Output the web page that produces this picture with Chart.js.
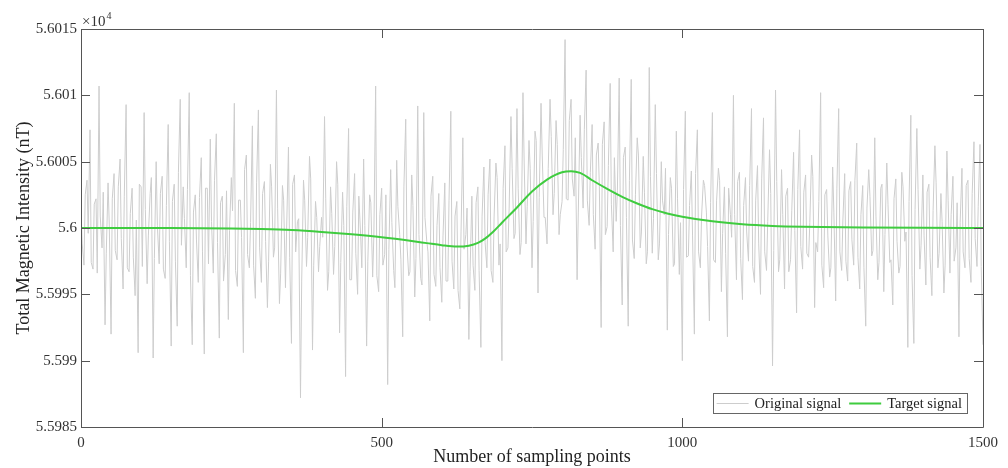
<!DOCTYPE html>
<html><head><meta charset="utf-8">
<script src="https://cdn.jsdelivr.net/npm/chart.js@4/dist/chart.umd.min.js"></script>
<style>html,body{margin:0;padding:0;background:#fff}#wrap{width:1008px;height:468px}</style>
</head><body><div id="wrap"><canvas id="c" width="1008" height="468"></canvas></div>
<script>
// ---- data (nT) ----
const SERIES_NAMES = ['Original signal', 'Target signal'];
const X_TITLE = 'Number of sampling points';
const Y_TITLE = 'Total Magnetic Intensity (nT)';
const X_TICKS = [0, 500, 1000, 1500];
const X_TICK_LABELS = ['0', '500', '1000', '1500'];
const Y_TICKS = [55985, 55990, 55995, 56000, 56005, 56010, 56015];
const Y_TICK_LABELS = ['5.5985', '5.599', '5.5995', '5.6', '5.6005', '5.601', '5.6015'];
const SAMPLE_STEP = 5;   // originalValues: sampling points 0, 5, 10, ... 1500
const MID_OFFSET = 2;    // originalValuesMid: sampling points 2, 7, 12, ... 1497

const originalValues = [
56001.5,55997.2,56003.6,56007.4,55996.9,56002.2,56010.7,55998.5,55992.7,56003.4,
55992.0,56004.1,55997.6,56005.2,55995.4,56009.3,55996.7,56003.0,55994.9,55990.6,
56003.1,56008.7,55995.8,56002.6,55990.2,56005.0,55997.3,56003.9,55996.2,56007.8,
55991.1,56003.3,55992.6,56009.7,56003.1,55997.0,56010.2,55991.2,56002.5,55995.9,
56005.3,55990.5,56003.0,56006.7,55996.6,56007.1,55991.7,56002.4,55998.0,55993.1,
56003.8,56009.4,55995.6,56002.1,55990.6,56005.5,55997.0,56007.7,55994.7,56008.9,
55995.9,56003.5,55994.0,56004.8,55997.8,56010.4,55994.3,56003.2,55995.5,56006.1,
55991.3,56004.0,56000.5,55987.2,56003.6,55997.1,56005.4,55990.8,56002.0,55996.7,
56000.8,56008.4,55995.3,56003.1,55996.5,56005.0,55992.1,56002.7,55988.8,56007.5,
55996.1,56004.1,55995.0,55999.5,56005.2,55991.1,56002.5,55996.3,56010.7,55995.2,
56003.0,55998.0,55988.2,56004.4,55996.8,56005.1,55999.5,55991.8,56008.2,55996.4,
56004.0,55994.8,56009.2,55996.2,56008.7,55999.0,55993.0,56003.9,55995.6,56002.6,
55994.4,56003.4,55996.0,56008.8,55995.4,56002.0,55993.9,56006.8,55999.5,55991.6,
56002.4,55995.3,56003.1,55991.0,56004.6,55997.0,56005.2,55995.9,56004.9,55997.2,
55990.0,56006.2,55998.5,56008.4,55999.2,56009.0,55998.0,56010.2,55998.8,56006.6,
55997.0,56007.3,55995.1,56009.4,56000.8,55998.8,56009.7,56001.0,56008.1,55999.5,
56002.0,56014.2,56002.1,56009.7,56002.4,55996.1,56008.5,56001.5,56011.9,56000.2,
56007.8,55998.4,56006.4,55992.5,56008.0,56000.1,56010.9,55998.2,56000.5,56011.3,
55994.2,56006.1,55992.6,56011.2,55997.7,56006.8,55998.5,56005.4,55997.3,56012.1,
55998.1,56009.3,55997.6,56005.0,56001.0,55992.3,56003.8,55997.1,56007.3,55996.5,
55990.0,56008.8,55997.9,56004.3,55992.0,56007.4,55997.0,56003.6,56001.2,55993.0,
56008.7,55997.4,56004.5,55995.2,56003.1,55991.8,56001.0,56010.0,55996.1,56004.2,
55994.6,56003.8,55997.5,56009.0,55995.9,56004.7,55995.0,56008.3,55996.8,56005.9,
55989.6,56010.4,55996.7,56004.4,55995.4,56003.0,55997.6,56005.7,55993.6,56007.4,
55996.9,56004.0,55997.8,56005.5,55994.0,55998.2,56010.2,55995.5,56002.9,55996.3,
56004.6,55994.5,56009.0,55996.8,56004.1,55996.0,56003.5,55997.2,56006.4,55995.4,
56003.2,55992.6,56004.4,55997.9,56006.8,55996.1,56003.0,55995.2,56004.9,55997.4,
55994.2,56003.7,55996.6,56004.2,55999.0,55991.0,56008.5,55991.3,56007.5,55996.9,
56004.0,55995.7,56003.3,55994.9,56006.2,55997.0,56002.6,55995.1,56005.8,55996.6,
56003.9,55998.5,55991.8,56004.5,55997.0,56003.6,55995.9,56006.5,55997.1,56006.3,
55991.2
];

const originalValuesMid = [
55998.8,56002.5,55999.6,55997.4,56001.8,55996.6,56000.9,56002.7,55998.1,56000.3,
56002.2,55998.3,56003.1,55999.2,56002.4,55997.0,56001.1,55997.8,56000.6,56003.3,
55997.1,56001.4,55999.4,56003.8,55997.7,56000.2,56002.6,55996.9,56001.7,55999.0,
56002.0,55997.5,56004.2,55998.7,56000.7,56002.9,55996.4,56001.2,55999.1,56002.3,
55998.2,56003.0,55997.3,56000.5,56003.6,55998.9,56001.9,55996.0,56002.8,55999.8,
56001.3,55996.8,56002.1,55999.3,56004.4,55998.0,56000.4,55997.2,56003.4,55998.5,
56002.6,55999.0,55997.5,56003.1,55998.5,56001.5,55996.6,56002.1,56000.0,55997.8,
56003.3,55998.2,56000.7,55996.0,56002.1,55999.3,56003.7,55997.2,56000.8,55998.6,
55999.3,56002.2,55996.7,56001.1,55998.6,56003.3,55997.4,56000.2,56001.6,55996.1,
56001.2,55998.1,56002.4,55997.0,56000.2,55997.5,56001.9,55999.4,55996.4,56001.0,
55997.2,56002.5,55998.4,56000.4,55995.5,56001.6,55997.6,56003.1,55998.8,55996.7,
56001.7,55997.7,55999.5,55995.7,56000.8,55998.2,56002.4,55996.5,56000.2,55997.0,
55999.4,55996.0,56002.1,55997.5,56000.9,55995.3,55999.7,55998.4,56001.5,55996.7,
55997.2,56001.9,55996.8,56000.9,55998.9,56002.5,55996.8,56000.9,56003.8,55998.8,
56003.0,55998.2,56001.5,56004.5,55999.6,56003.0,55998.9,56004.9,56001.6,56004.5,
56000.5,56006.6,56002.3,56005.5,56000.8,56004.5,56006.9,56002.6,56006.3,56001.0,
56005.9,56002.2,56008.1,56003.7,56006.8,56001.2,56005.3,56007.4,56002.1,56004.2,
56001.0,56005.5,56003.1,56006.3,55999.5,56004.7,56001.8,56005.3,56002.8,56000.2,
56005.3,56000.8,56003.6,55999.1,56002.5,56005.5,55999.7,56002.7,55998.2,56003.9,
56000.7,56004.1,55998.8,56002.1,56004.5,55999.5,56003.0,55997.3,56002.2,56000.4,
56002.9,55997.8,56001.7,55999.4,56004.1,55998.2,56000.9,56003.2,55998.6,56001.9,
55997.6,56002.1,56003.6,55999.6,55998.1,56003.0,55999.3,56001.0,56003.5,55997.7,
56001.7,55999.7,56003.2,55997.1,56002.1,55998.8,56003.7,55998.2,56000.5,56002.6,
55998.3,56003.5,55997.6,56001.0,56002.4,55996.7,56001.3,55999.8,56002.9,55998.6,
56002.7,55998.1,56000.4,56003.9,55998.9,56002.0,55997.2,56002.5,55999.4,55997.0,
56001.2,56003.0,55998.2,56000.6,55997.5,56002.8,55999.1,56003.6,55997.8,56001.0,
55997.0,56001.5,56002.4,55998.3,56000.9,55997.4,56003.3,55999.5,56001.8,55997.6,
56002.2,55999.0,55997.1,56003.1,55999.7,56002.0,55996.4,56001.4,56002.9,55998.7,
55999.4,56002.7,55997.8,56001.3,56003.4,55998.1,56000.5,55997.2,56002.1,56001.0,
55997.5,56001.9,56000.4,55998.2,56003.2,55997.7,56002.6,55999.2,56001.6,55997.1
];

const targetX = [0, 150, 250, 300, 350, 400, 450, 500, 550, 575, 600, 625, 645, 660, 672, 685, 700, 725, 750, 775, 800, 815, 830, 850, 875, 900, 925, 950, 975, 1000, 1050, 1100, 1150, 1200, 1300, 1400, 1500];
const targetValues = [56000.0, 56000.0, 55999.97, 55999.92, 55999.84, 55999.7, 55999.52, 55999.3, 55999.02, 55998.86, 55998.7, 55998.6, 55998.67, 55998.88, 55999.2, 55999.7, 56000.4, 56001.55, 56002.75, 56003.65, 56004.2, 56004.28, 56004.15, 56003.6, 56002.95, 56002.35, 56001.85, 56001.42, 56001.1, 56000.85, 56000.5, 56000.28, 56000.16, 56000.1, 56000.04, 56000.01, 56000.0];

// ---- build library data ----
const originalData = [];
originalValues.forEach((v, i) => {
  originalData.push({x: i * SAMPLE_STEP, y: v});
  if (i < originalValuesMid.length) originalData.push({x: i * SAMPLE_STEP + MID_OFFSET, y: originalValuesMid[i]});
});
const targetData = targetValues.map((v, i) => ({x: targetX[i], y: v}));

const SERIF = '"Liberation Serif", "Times New Roman", serif';
const GREY_LINE = '#cdcdcd';
const GREEN = '#3fcc3f';
const FRAME = '#555555';

const framePlugin = {
  id: 'frame',
  afterDatasetsDraw(chart) {
    const {ctx, chartArea: a, scales} = chart;
    ctx.save();
    ctx.strokeStyle = FRAME;
    ctx.lineWidth = 1;
    ctx.beginPath();
    ctx.rect(Math.round(a.left) + 0.5, Math.round(a.top) + 0.5, Math.round(a.right - a.left), Math.round(a.bottom - a.top));
    ctx.stroke();
    const T = 9;
    ctx.beginPath();
    Y_TICKS.forEach(v => {
      const y = Math.round(scales.y.getPixelForValue(v)) + 0.5;
      ctx.moveTo(a.left, y); ctx.lineTo(a.left + T, y);
      ctx.moveTo(a.right, y); ctx.lineTo(a.right - T, y);
    });
    X_TICKS.forEach(v => {
      const x = Math.round(scales.x.getPixelForValue(v)) + 0.5;
      ctx.moveTo(x, a.bottom); ctx.lineTo(x, a.bottom - T);
      ctx.moveTo(x, a.top); ctx.lineTo(x, a.top + T);
    });
    ctx.stroke();
    // exponent label
    ctx.fillStyle = '#333';
    ctx.textBaseline = 'alphabetic';
    ctx.textAlign = 'left';
    ctx.font = '15px ' + SERIF;
    ctx.fillText('\u00d710', a.left + 1, a.top - 3);
    const w = ctx.measureText('\u00d710').width;
    ctx.font = '10px ' + SERIF;
    ctx.fillText('4', a.left + 1 + w + 1, a.top - 10);
    ctx.restore();
  },
  afterDraw(chart) {
    const {ctx, chartArea: a} = chart;
    const ds = chart.data.datasets;
    ctx.save();
    ctx.font = '14.5px ' + SERIF;
    const LINE = 32, padL = 4, gapT = 6, gapItem = 8, padR = 5;
    const widths = ds.map(d => ctx.measureText(d.label).width);
    const total = padL + ds.length * (LINE + gapT) + widths.reduce((s, v) => s + v, 0) + (ds.length - 1) * gapItem + padR;
    const right = a.right - 16, bottom = a.bottom - 14, h = 20;
    const left = right - total, top = bottom - h;
    ctx.fillStyle = '#fff';
    ctx.fillRect(left, top, total, h);
    ctx.strokeStyle = '#666';
    ctx.lineWidth = 1;
    ctx.strokeRect(Math.round(left) + 0.5, Math.round(top) + 0.5, Math.round(total), h);
    let x = left + padL;
    const cy = top + h / 2;
    ds.forEach((d, i) => {
      ctx.strokeStyle = d.borderColor;
      ctx.lineWidth = d.borderWidth;
      ctx.beginPath(); ctx.moveTo(x, Math.round(cy) + 0.5); ctx.lineTo(x + LINE, Math.round(cy) + 0.5); ctx.stroke();
      x += LINE + gapT;
      ctx.fillStyle = '#222';
      ctx.textBaseline = 'middle';
      ctx.fillText(d.label, x, cy + 1);
      x += widths[i] + gapItem;
    });
    ctx.restore();
  }
};

new Chart(document.getElementById('c'), {
  type: 'line',
  data: {
    datasets: [
      {label: SERIES_NAMES[0], data: originalData, borderColor: GREY_LINE, borderWidth: 1, pointRadius: 0, tension: 0, order: 2},
      {label: SERIES_NAMES[1], data: targetData, borderColor: GREEN, borderWidth: 2, pointRadius: 0, cubicInterpolationMode: 'monotone', order: 1}
    ]
  },
  options: {
    responsive: false, animation: false, devicePixelRatio: 1,
    layout: {padding: {left: 0, right: 25, top: 29, bottom: 0}},
    plugins: {legend: {display: false}, tooltip: {enabled: false}},
    scales: {
      x: {
        type: 'linear', min: 0, max: 1500,
        afterBuildTicks: s => { s.ticks = X_TICKS.map(v => ({value: v})); },
        afterFit: s => { s.height = 41; },
        grid: {display: false, drawTicks: false},
        border: {display: false},
        ticks: {
          autoSkip: false, maxRotation: 0, padding: 7, color: '#333',
          font: {family: SERIF, size: 15},
          callback: v => X_TICK_LABELS[X_TICKS.indexOf(v)]
        },
        title: {display: true, text: X_TITLE, color: '#222', font: {family: SERIF, size: 18}, padding: {top: 0, bottom: 0}}
      },
      y: {
        min: 55985, max: 56015,
        afterBuildTicks: s => { s.ticks = Y_TICKS.map(v => ({value: v})); },
        afterFit: s => { s.width = 81; },
        grid: {display: false, drawTicks: false},
        border: {display: false},
        ticks: {
          autoSkip: false, padding: 4, color: '#333',
          font: {family: SERIF, size: 15},
          callback: v => Y_TICK_LABELS[Y_TICKS.indexOf(v)]
        },
        title: {display: true, text: Y_TITLE, color: '#222', font: {family: SERIF, size: 18}, padding: {top: 13, bottom: 0}}
      }
    }
  },
  plugins: [framePlugin]
});
</script>
</body></html>
